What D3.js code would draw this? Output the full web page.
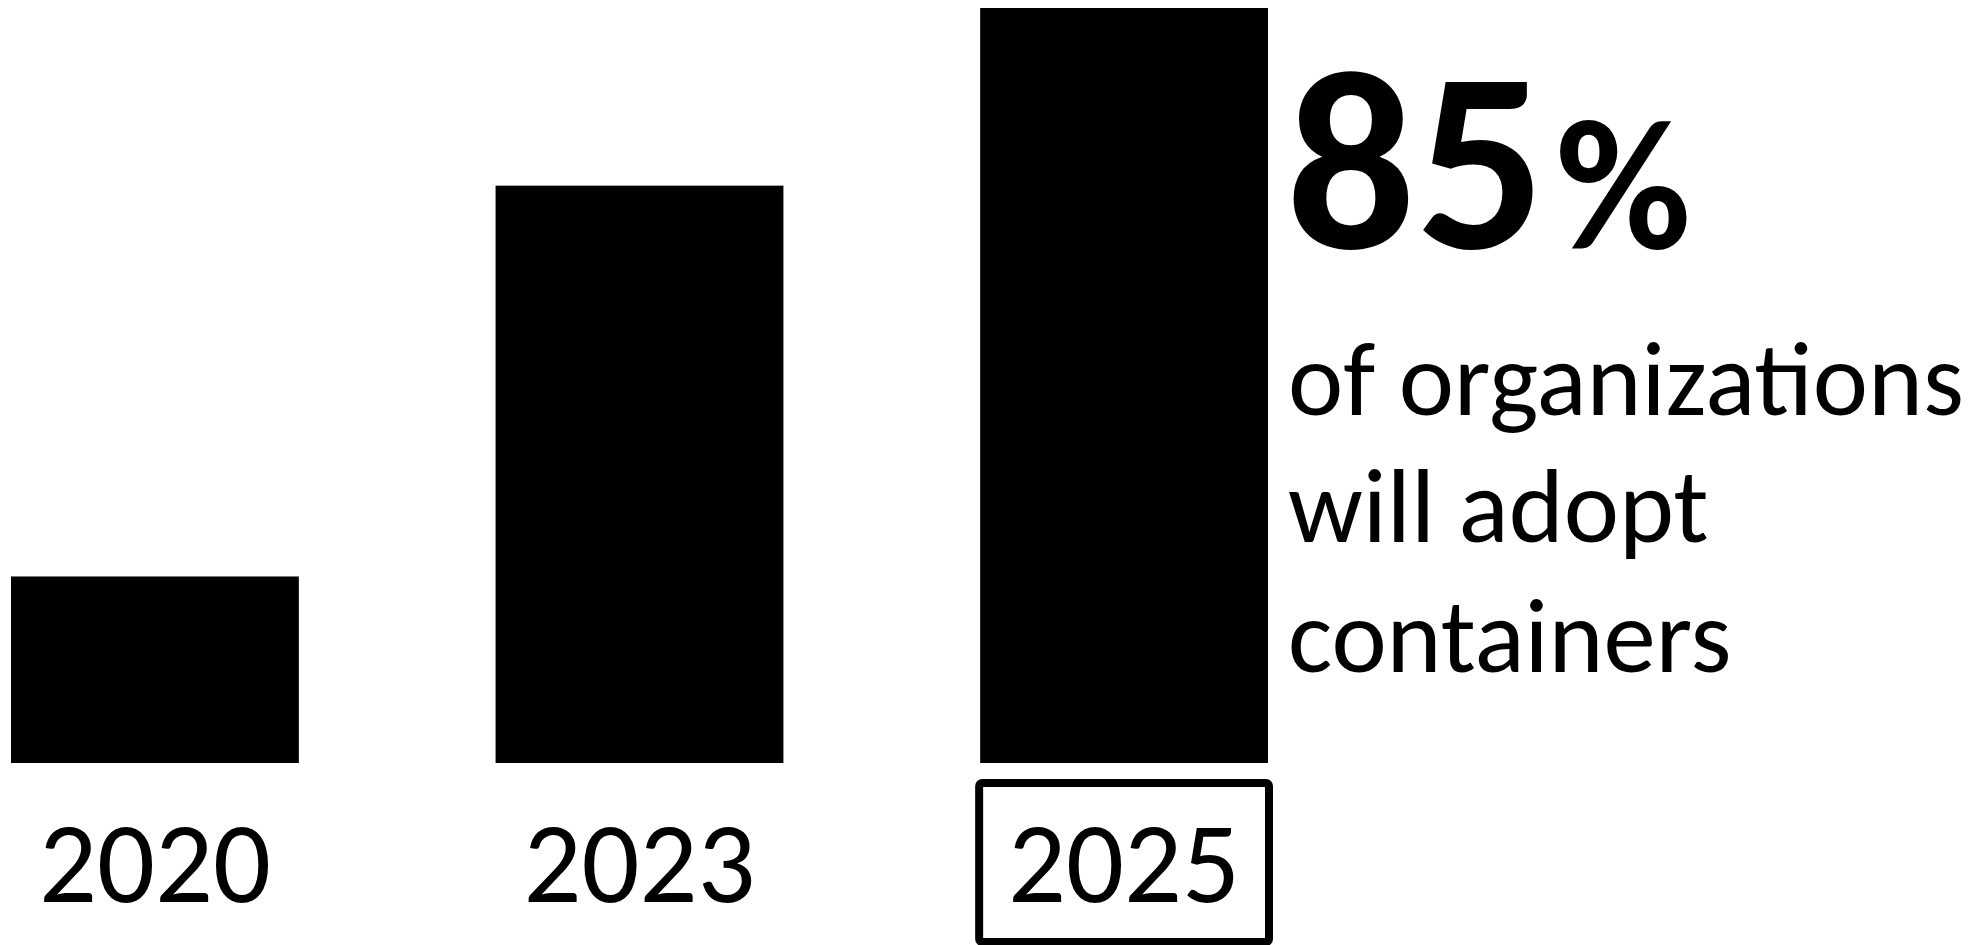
<!DOCTYPE html>
<html>
<head>
<meta charset="utf-8">
<script src="https://cdn.jsdelivr.net/npm/d3@7"></script>
<style>
  html, body { margin: 0; padding: 0; background: #fff; }
  svg { display: block; }
  text { font-family: Carlito, Calibri, Lato, sans-serif; fill: #000; }
</style>
</head>
<body>
<script>
// data
let years = ['2020', '2023', '2025'];
let shares = [21, 65, 85];
let highlightYear = '2025';
let bigNumber = '85';
let bigUnit = '%';
let captionLines = ['of organizations', 'will adopt', 'containers'];

let width = 1972;
let height = 945;

let svg = d3.select('body').append('svg')
  .attr('width', width)
  .attr('height', height);

let x = d3.scaleBand()
  .domain(years)
  .range([11, 1268])
  .paddingInner(0.406)
  .paddingOuter(0);

let y = d3.scaleLinear()
  .domain([0, d3.max(shares)])
  .range([763, 8]);

let data = years.map((d, i) => ({ year: d, value: shares[i] }));

svg.append('g')
  .selectAll('rect')
  .data(data)
  .enter()
  .append('rect')
  .attr('x', d => x(d.year))
  .attr('y', d => y(d.value))
  .attr('width', x.bandwidth())
  .attr('height', d => y(0) - y(d.value))
  .attr('fill', '#000');

// shrink/grow a text so its width hits a target
function fitWidth(sel, target) {
  let node = sel.node();
  let size = parseFloat(sel.attr('font-size'));
  let w = node.getComputedTextLength();
  sel.attr('font-size', size * target / w);
}

// frame round the highlighted year
let hx = x(highlightYear);
svg.append('rect')
  .attr('x', hx - 1)
  .attr('y', 783)
  .attr('width', x.bandwidth() + 2)
  .attr('height', 159)
  .attr('rx', 3)
  .attr('fill', 'none')
  .attr('stroke', '#000')
  .attr('stroke-width', 8);

let labels = svg.append('g')
  .selectAll('text')
  .data(years)
  .enter()
  .append('text')
  .attr('x', d => x(d) + x.bandwidth() / 2)
  .attr('y', 902)
  .attr('text-anchor', 'middle')
  .attr('font-size', 110)
  .text(d => d);
labels.each(function() { fitWidth(d3.select(this), 232); });

// big number
let big = svg.append('text')
  .attr('x', 1286)
  .attr('y', 248)
  .attr('font-weight', 'bold');
big.append('tspan').attr('font-size', 256).text(bigNumber);
big.append('tspan').attr('font-size', 186).attr('dx', 10).text(bigUnit);

// caption
let lineY = [415, 542, 672];
let cap = svg.append('g');
let first = cap.append('text')
  .attr('x', 1288)
  .attr('y', lineY[0])
  .attr('font-size', 110)
  .text(captionLines[0]);
fitWidth(first, 676);
let capSize = first.attr('font-size');
captionLines.slice(1).forEach((t, i) => {
  cap.append('text')
    .attr('x', 1288)
    .attr('y', lineY[i + 1])
    .attr('font-size', capSize)
    .text(t);
});
</script>
</body>
</html>
